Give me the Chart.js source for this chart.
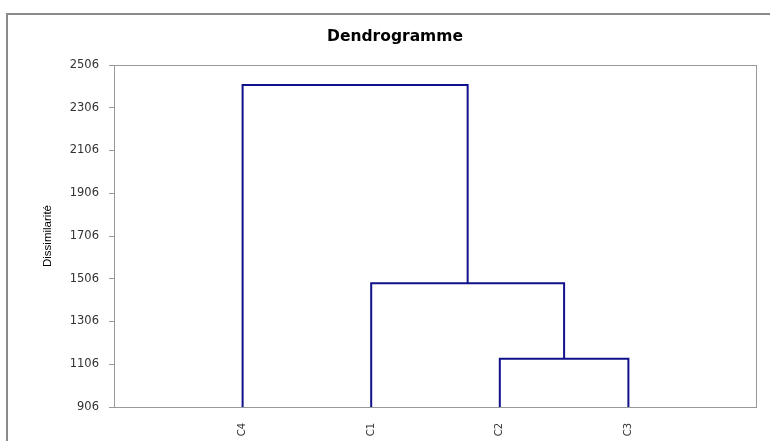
<!DOCTYPE html>
<html lang="en">
<head>
    <meta charset="UTF-8">
    <title>Dendrogramme</title>
    <script src="https://cdn.jsdelivr.net/npm/chart.js"></script>
    <style>
        body { margin: 0; overflow: hidden; background: #fff; }
        #frame { position: absolute; left: 6px; top: 13px; width: 900px; height: 600px; border-left: 2px solid #8a8a8a; border-top: 2px solid #8a8a8a; }
        #myChart { position: absolute; left: 0; top: 0; }
    </style>
</head>
<body>
    <div id="frame"></div>
    <canvas id="myChart" width="770" height="441"></canvas>

    <script>
        // leaves in display order, then merges (left child, right child, height)
        const leaves = ['C4', 'C1', 'C2', 'C3'];
        const mergeLeft = ['C2', 'C1', 'C4'];
        const mergeRight = ['C3', 'n1', 'n2'];
        const mergeHeight = [1132, 1485, 2412];
        const yTicks = [906, 1106, 1306, 1506, 1706, 1906, 2106, 2306, 2506];

        var nodes = {}
        leaves.forEach((name, i) => {
            nodes[name] = { x: i + 1, y: yTicks[0] };
        })
        var links = []
        mergeHeight.forEach((h, i) => {
            const a = nodes[mergeLeft[i]];
            const b = nodes[mergeRight[i]];
            links.push({
                data: [{ x: a.x, y: a.y }, { x: a.x, y: h }, { x: b.x, y: h }, { x: b.x, y: b.y }],
                borderColor: '#10108a',
                borderWidth: 2,
                pointRadius: 0,
                showLine: true,
                fill: false
            });
            nodes['n' + (i + 1)] = { x: (a.x + b.x) / 2, y: h };
        })

        // grey box round the plot area
        const plotBox = {
            id: 'plotBox',
            afterDatasetsDraw(chart) {
                const a = chart.chartArea;
                const c = chart.ctx;
                c.save();
                c.strokeStyle = '#999';
                c.lineWidth = 1;
                c.strokeRect(a.left + 0.5, a.top + 0.5, a.right - a.left - 1, a.bottom - a.top);
                c.restore();
            }
        }

        new Chart(document.getElementById('myChart'), {
            type: 'scatter',
            data: { datasets: links },
            plugins: [plotBox],
            options: {
                responsive: false,
                animation: false,
                layout: { padding: { left: 33, right: 13, top: 0, bottom: 0 } },
                plugins: {
                    legend: { display: false },
                    tooltip: { enabled: false },
                    title: {
                        display: true,
                        text: 'Dendrogramme',
                        color: '#000',
                        font: { family: 'DejaVu Sans', size: 15.5, weight: 'bold' },
                        padding: { top: 28, bottom: 18.4 }
                    }
                },
                scales: {
                    x: {
                        type: 'linear',
                        min: 0,
                        max: 5,
                        afterFit: (s) => { s.height = 34; },
                        afterBuildTicks: (s) => { s.ticks = leaves.map((l, i) => ({ value: i + 1 })); },
                        grid: { display: false },
                        border: { display: false },
                        ticks: {
                            autoSkip: false,
                            minRotation: 90,
                            maxRotation: 90,
                            padding: 8,
                            color: '#333',
                            font: { family: 'DejaVu Sans', size: 10 },
                            callback: (v) => leaves[v - 1] || ''
                        }
                    },
                    y: {
                        min: yTicks[0],
                        max: yTicks[yTicks.length - 1],
                        afterFit: (s) => { s.width = 81; },
                        afterBuildTicks: (s) => { s.ticks = yTicks.map((v) => ({ value: v })); },
                        grid: { drawOnChartArea: false, drawTicks: true, tickLength: 5, color: '#999' },
                        border: { display: true, color: '#999' },
                        ticks: {
                            padding: 10,
                            color: '#333',
                            font: { family: 'DejaVu Sans', size: 11.5 },
                            callback: (v) => String(v)
                        },
                        title: {
                            display: true,
                            text: 'Dissimilarité',
                            color: '#000',
                            font: { family: 'Liberation Sans', size: 11.5 },
                            padding: { top: 8, bottom: 0 }
                        }
                    }
                }
            }
        });
    </script>
</body>
</html>
